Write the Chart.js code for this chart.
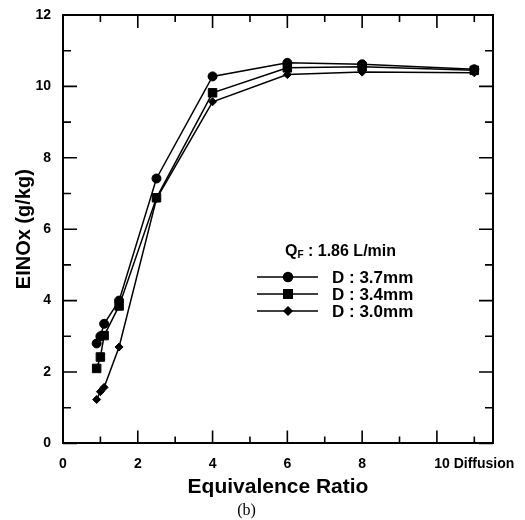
<!DOCTYPE html>
<html>
<head>
<meta charset="utf-8">
<title>EINOx vs Equivalence Ratio</title>
<script src="https://cdn.jsdelivr.net/npm/chart.js@4.4.1/dist/chart.umd.min.js"></script>
<style>
  html, body { margin: 0; padding: 0; background: #fff; }
  canvas { display: block; }
</style>
</head>
<body>
<canvas id="grafico" width="525" height="520"></canvas>
<script>
// equivalence ratio of each run (11 = diffusion flame)
const razao = [0.9, 1.0, 1.1, 1.5, 2.5, 4, 6, 8, 11];

// EINOx (g/kg) for each nozzle diameter
const einoxD37 = [2.8, 3.0, 3.35, 4.0, 7.42, 10.28, 10.66, 10.62, 10.48];
const einoxD34 = [2.1, 2.42, 3.02, 3.85, 6.88, 9.82, 10.52, 10.55, 10.45];
const einoxD30 = [1.23, 1.45, 1.57, 2.7, 6.85, 9.57, 10.33, 10.4, 10.38];

const nomesSeries = ['D : 3.7mm', 'D : 3.4mm', 'D : 3.0mm'];

// axis ticks
const xLabelValues = [0, 2, 4, 6, 8, 11];
const xLabelText = ['0', '2', '4', '6', '8', '10 Diffusion'];
const xMajor = [0, 2, 4, 6, 8, 10];
const xMinor = [1, 3, 5, 7, 9, 11];
const yMajor = [0, 2, 4, 6, 8, 10, 12];
const yMinor = [1, 3, 5, 7, 9, 11];

const FONTE = '"Liberation Sans", Arial, sans-serif';

function pontos(ys) {
  return razao.map((x, i) => ({ x: x, y: ys[i] }));
}

function serie(label, ys, estilo, raio) {
  return {
    label: label,
    data: pontos(ys),
    showLine: true,
    tension: 0,
    borderColor: '#000',
    borderWidth: 1.5,
    backgroundColor: '#000',
    pointStyle: estilo,
    pointRadius: raio,
    pointBorderWidth: 1,
    pointBorderColor: '#000',
    pointBackgroundColor: '#000'
  };
}

// frame on top/right and inward tick marks on all four sides
const moldura = {
  id: 'moldura',
  afterDraw(chart) {
    const { ctx, chartArea: a, scales } = chart;
    const x = scales.x, y = scales.y;
    ctx.save();
    ctx.strokeStyle = '#000';
    ctx.lineWidth = 2;
    ctx.beginPath();
    ctx.moveTo(a.left, a.top);
    ctx.lineTo(a.right, a.top);
    ctx.lineTo(a.right, a.bottom);
    ctx.stroke();

    ctx.lineWidth = 1.6;
    ctx.beginPath();
    const tickX = (v, len) => {
      const px = x.getPixelForValue(v);
      ctx.moveTo(px, a.bottom);
      ctx.lineTo(px, a.bottom - len);
      ctx.moveTo(px, a.top);
      ctx.lineTo(px, a.top + len);
    };
    const tickY = (v, len) => {
      const py = y.getPixelForValue(v);
      ctx.moveTo(a.left, py);
      ctx.lineTo(a.left + len, py);
      ctx.moveTo(a.right, py);
      ctx.lineTo(a.right - len, py);
    };
    xMajor.forEach(v => tickX(v, 13));
    xMinor.forEach(v => tickX(v, 7));
    yMajor.forEach(v => tickY(v, 14));
    yMinor.forEach(v => tickY(v, 8));
    ctx.stroke();
    ctx.restore();
  }
};

// legend box with the flow-rate heading
const legenda = {
  id: 'legenda',
  afterDraw(chart) {
    const ctx = chart.ctx;
    ctx.save();
    ctx.fillStyle = '#000';
    ctx.textBaseline = 'middle';
    ctx.textAlign = 'left';

    let hx = 285;
    const hy = 252;
    ctx.font = 'bold 16px ' + FONTE;
    ctx.fillText('Q', hx, hy);
    hx += ctx.measureText('Q').width;
    ctx.font = 'bold 10px ' + FONTE;
    ctx.fillText('F', hx, hy + 3);
    hx += ctx.measureText('F').width;
    ctx.font = 'bold 16px ' + FONTE;
    ctx.fillText(' : 1.86 L/min', hx, hy);

    const linhas = [277, 294, 311];
    chart.data.datasets.forEach((ds, i) => {
      const ly = linhas[i];
      ctx.strokeStyle = '#000';
      ctx.lineWidth = 1.5;
      ctx.beginPath();
      ctx.moveTo(257, ly);
      ctx.lineTo(318, ly);
      ctx.stroke();
      Chart.helpers.drawPoint(ctx, {
        pointStyle: ds.pointStyle,
        radius: ds.pointRadius,
        borderWidth: 1,
        rotation: 0
      }, 288, ly);
      ctx.fill();
      ctx.fillStyle = '#000';
      ctx.font = 'bold 17px ' + FONTE;
      ctx.fillText(ds.label, 332, ly + 1);
    });
    ctx.restore();
  }
};

new Chart(document.getElementById('grafico'), {
  type: 'scatter',
  data: {
    datasets: [
      serie(nomesSeries[0], einoxD37, 'circle', 4.5),
      serie(nomesSeries[1], einoxD34, 'rect', 6),
      serie(nomesSeries[2], einoxD30, 'rectRot', 4)
    ]
  },
  options: {
    responsive: false,
    animation: false,
    layout: { padding: { left: 0, top: 15, right: 32, bottom: 0 } },
    scales: {
      x: {
        type: 'linear',
        min: 0,
        max: 11.5,
        afterFit(scale) { scale.height = 54; },
        afterBuildTicks(scale) {
          scale.ticks = xLabelValues.map(v => ({ value: v }));
        },
        grid: { display: false },
        border: { display: true, color: '#000', width: 2 },
        ticks: {
          autoSkip: false,
          maxRotation: 0,
          padding: 4,
          color: '#000',
          font: { family: FONTE, size: 14, weight: 'bold' },
          callback: (v) => {
            const i = xLabelValues.indexOf(v);
            return i >= 0 ? xLabelText[i] : '';
          }
        },
        title: {
          display: true,
          text: 'Equivalence Ratio',
          color: '#000',
          font: { family: FONTE, size: 21, weight: 'bold', lineHeight: 1 },
          padding: { top: 0, bottom: 0 }
        }
      },
      y: {
        min: 0,
        max: 12,
        afterFit(scale) { scale.width = 63; },
        grid: { display: false },
        border: { display: true, color: '#000', width: 2 },
        ticks: {
          stepSize: 2,
          padding: 4,
          color: '#000',
          font: { family: FONTE, size: 14, weight: 'bold' }
        },
        title: {
          display: true,
          text: 'EINOx (g/kg)',
          color: '#000',
          font: { family: FONTE, size: 20, weight: 'bold', lineHeight: 1 },
          padding: { top: 14, bottom: 0 }
        }
      }
    },
    plugins: {
      legend: { display: false },
      tooltip: { enabled: false },
      subtitle: {
        display: true,
        position: 'bottom',
        text: '(b)',
        color: '#000',
        font: { family: '"Liberation Serif", "Times New Roman", serif', size: 16, weight: 'normal', lineHeight: 1.1 },
        padding: { top: 5, bottom: 0 }
      }
    }
  },
  plugins: [moldura, legenda]
});
</script>
</body>
</html>
